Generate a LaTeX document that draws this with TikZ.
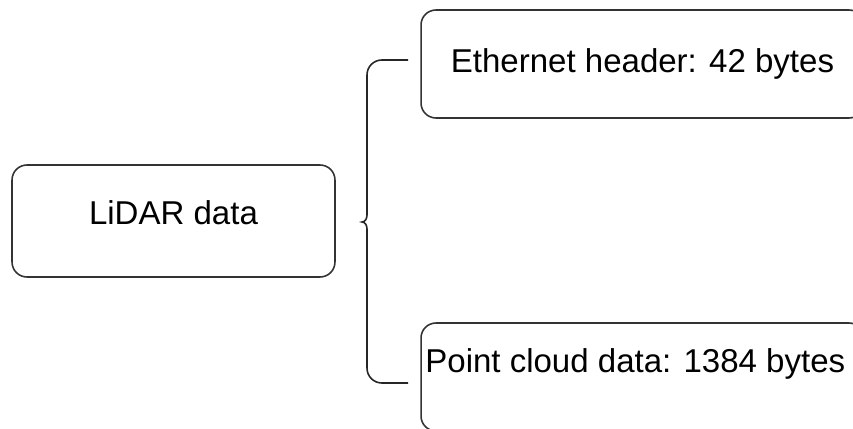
\documentclass[tikz,border=0pt]{standalone}
\usepackage{fontspec}
\setmainfont{Liberation Sans}
\tikzset{
  box/.style={draw=black!80, line width=0.9pt, rounded corners=8.5pt, inner sep=0pt},
  brace/.style={draw=black!85, line width=0.9pt},
}
\begin{document}
\begin{tikzpicture}[x=0.02cm, y=-0.02cm, font=\fontsize{18.8}{22}\selectfont]
                \clip (0,0) rectangle (853,429);
                \node[box, minimum width=6.46cm, minimum height=2.24cm, text depth=0.32cm] (lidar) at (173.5,221) {LiDAR data};
                \node[box, minimum width=8.86cm, minimum height=2.16cm] (eth) at (642.5,64) {Ethernet header: 42 bytes};
                \node[box, minimum width=8.86cm, minimum height=2.16cm] (pcd) at (642.5,377) {};
                \node[anchor=west, inner sep=0pt] (pcdtext) at (425,364) {Point cloud data: 1384 bytes};

                \coordinate (brtop) at (408,60);
                \coordinate (brbot) at (408,383);
                \coordinate (brtip) at (362,222);

                \draw[brace, rounded corners=8.5pt] (brtop) -- (367,60) -- (367,215);
                \draw[brace] (367,215) to[out=-90, in=0] (brtip) to[out=0, in=90] (367,229);
                \draw[brace, rounded corners=8.5pt] (367,229) -- (367,383) -- (brbot);
            \end{tikzpicture}
\end{document}
